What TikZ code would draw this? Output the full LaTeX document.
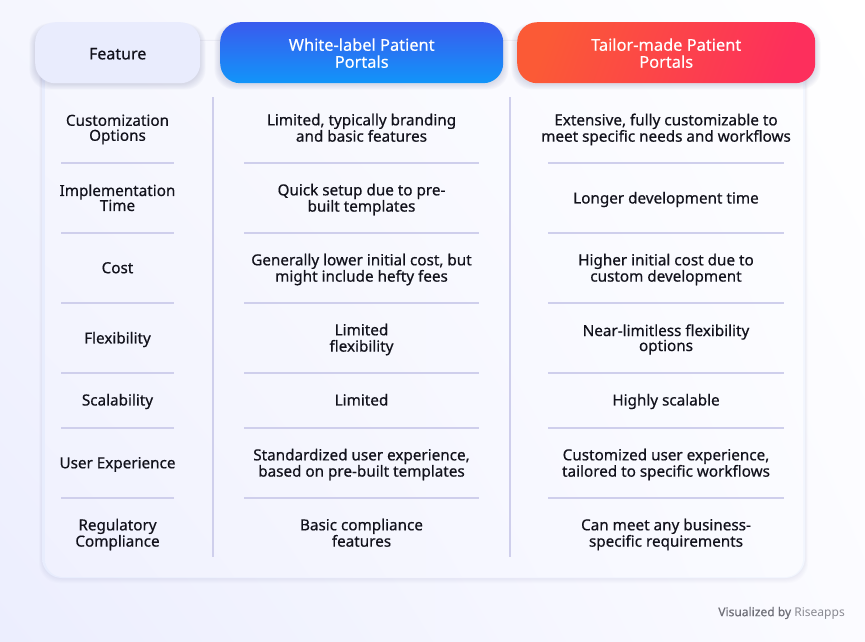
\documentclass[tikz,border=0pt]{standalone}
\usepackage{fontspec}
\setmainfont{Noto Sans}
\newfontfamily\semif{Noto Sans}[FakeBold=0.55]
\newfontfamily\headf{Noto Sans}[FakeBold=0.25]
\usetikzlibrary{shadings}
\definecolor{inkc}{HTML}{12121C}
\definecolor{rulec}{HTML}{CFCFEC}
\definecolor{bgll}{HTML}{ECEEFE}
\definecolor{bgul}{HTML}{F5F6FE}
\definecolor{bgur}{HTML}{FFFFFF}
\definecolor{bglr}{HTML}{FBFBFF}
\definecolor{featc}{HTML}{E9ECFD}
\definecolor{bluet}{HTML}{3A5BEE}
\definecolor{blueb}{HTML}{1195F9}
\definecolor{redl}{HTML}{FB5A36}
\definecolor{redm}{HTML}{FC3D4E}
\definecolor{redr}{HTML}{FD2F5C}
\definecolor{shadowc}{HTML}{5A5F90}
\definecolor{creditc}{HTML}{6F6F78}
\definecolor{creditl}{HTML}{8A8A92}
\definecolor{edgel}{HTML}{E8EDFD}
\definecolor{edgem}{HTML}{F4F5FE}
\definecolor{edger}{HTML}{F2F6FE}
\definecolor{cardll}{HTML}{F0F1FE}
\definecolor{cardul}{HTML}{F6F7FE}
\definecolor{cardur}{HTML}{FDFDFF}
\definecolor{cardlr}{HTML}{FAFBFF}
\newcommand{\st}{\vphantom{Ag}}
\newcommand{\hs}{\rule{0pt}{17pt}}
\tikzset{
  x=1pt,y=-1pt,
  cell/.style={align=center,font=\semif\fontsize{15.25}{15}\selectfont,text=inkc,inner sep=0pt},
  headbase/.style={rounded corners=20pt,minimum height=61pt,inner sep=0pt,align=center,font=\headf\fontsize{16.4}{17}\selectfont},
  rulerow/.style={draw=rulec,line width=1.3pt},
  rulecol/.style={draw=rulec,line width=1.5pt},
}
\newcommand{\softshadow}[5]{% x1 y1 x2 y2 radius
  \foreach \k in {1,...,7}{
    \fill[shadowc,opacity=0.028,rounded corners=#5pt]
      ({#1-\k*0.8},{#2+4-\k*0.4}) rectangle ({#3+\k*0.8},{#4+\k*0.8+1});
  }
}
\begin{document}
\begin{tikzpicture}
\useasboundingbox (0,0) rectangle (865,641);
\shade[lower left=bgll,upper left=bgul,upper right=bgur,lower right=bglr] (0,0) rectangle (865,641);
% card
\foreach \k in {1,...,5}{
  \fill[shadowc,opacity=0.016,rounded corners=20pt] ({42-\k*0.6},{41-\k*0.3}) rectangle ({805+\k*0.6},{578+\k});
}
\shade[rounded corners=20pt,left color=edgel,right color=edger,middle color=edgem] (42,41) rectangle (805,578);
\shade[rounded corners=18pt,lower left=cardll,upper left=cardul,upper right=cardur,lower right=cardlr] (45,41) rectangle (803,577);
% header shadows
\softshadow{35}{22}{200}{83}{20}
\softshadow{220}{22}{503}{83}{20}
\softshadow{517}{22}{815}{83}{20}
% headers
\node[headbase,minimum width=165pt,fill=featc,text=inkc,anchor=north west,font=\semif\fontsize{16}{17}\selectfont] (hf) at (35,22) {\rule{0pt}{13.5pt}Feature};
\node[headbase,minimum width=283pt,top color=bluet,bottom color=blueb,text=white,anchor=north west] (hw) at (220,22) {\hs White-label Patient\\Portals\st};
\node[headbase,minimum width=298pt,left color=redl,middle color=redm,right color=redr,shading angle=70,text=white,anchor=north west] (ht) at (517,22) {\hs Tailor-made Patient\\Portals\st};
% column dividers
\coordinate (d1t) at (213,97); \coordinate (d1b) at (213,557);
\coordinate (d2t) at (510,97); \coordinate (d2b) at (510,557);
\draw[rulecol] (d1t) -- (d1b);
\draw[rulecol] (d2t) -- (d2b);
% row rules
\foreach \y in {163,233,303,373,428,498}{
  \draw[rulerow] (61,\y) -- (174,\y);
  \draw[rulerow] (244,\y) -- (479,\y);
  \draw[rulerow] (548,\y) -- (784,\y);
}
% cells
\node[cell] (a1) at (117.5,129.5) {Customization\st\\Options\st};
\node[cell] (b1) at (361.5,129.5) {Limited, typically branding\st\\and basic features\st};
\node[cell] (c1) at (666,129.5) {Extensive, fully customizable to\st\\meet specific needs and workflows\st};
\node[cell] (a2) at (117.5,199.5) {Implementation\st\\Time\st};
\node[cell] (b2) at (361.5,199.5) {Quick setup due to pre-\st\\built templates\st};
\node[cell] (c2) at (666,199.5) {Longer development time\st};
\node[cell] (a3) at (117.5,269.5) {Cost\st};
\node[cell] (b3) at (361.5,269.5) {Generally lower initial cost, but\st\\might include hefty fees\st};
\node[cell] (c3) at (666,269.5) {Higher initial cost due to\st\\custom development\st};
\node[cell] (a4) at (117.5,339.5) {Flexibility\st};
\node[cell] (b4) at (361.5,339.5) {Limited\st\\flexibility\st};
\node[cell] (c4) at (666,339.5) {Near-limitless flexibility\st\\options\st};
\node[cell] (a5) at (117.5,401.5) {Scalability\st};
\node[cell] (b5) at (361.5,401.5) {Limited\st};
\node[cell] (c5) at (666,401.5) {Highly scalable\st};
\node[cell] (a6) at (117.5,464.5) {User Experience\st};
\node[cell] (b6) at (361.5,464.5) {Standardized user experience,\st\\based on pre-built templates\st};
\node[cell] (c6) at (666,464.5) {Customized user experience,\st\\tailored to specific workflows\st};
\node[cell] (a7) at (117.5,534.5) {Regulatory\st\\Compliance\st};
\node[cell] (b7) at (361.5,534.5) {Basic compliance\st\\features\st};
\node[cell] (c7) at (666,534.5) {Can meet any business-\st\\specific requirements\st};
\node[anchor=east,inner sep=0pt,text=creditl,font=\fontsize{12.05}{14}\selectfont] (credit) at (845,613) {{\semif\color{creditc}Visualized by} Riseapps};
\end{tikzpicture}
\end{document}
